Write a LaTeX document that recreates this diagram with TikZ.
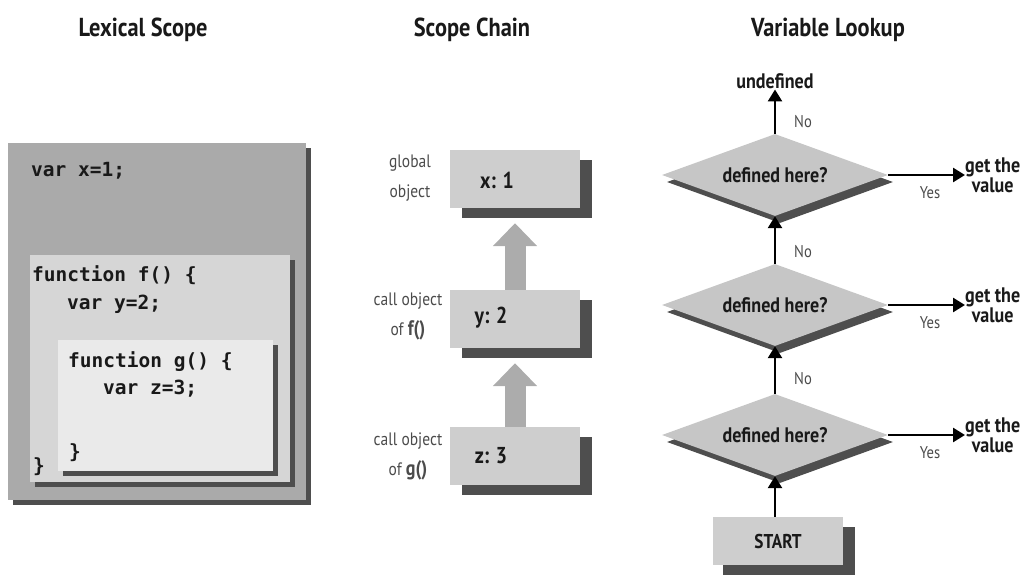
\documentclass[tikz,border=0pt]{standalone}
\usepackage{fontspec}
\setmainfont{PT Sans}
\newfontfamily\cond[FakeStretch=0.86]{PT Sans}
\newfontfamily\code{DejaVu Sans Mono}
\usetikzlibrary{shapes.geometric,arrows.meta,shadows}

\definecolor{outerfill}{RGB}{170,170,170}
\definecolor{midfill}{RGB}{214,214,214}
\definecolor{innerfill}{RGB}{234,234,234}
\definecolor{shade}{RGB}{78,78,78}
\definecolor{chainfill}{RGB}{206,206,206}
\definecolor{chainarrow}{RGB}{172,172,172}
\definecolor{testfill}{RGB}{198,198,198}
\definecolor{inktext}{RGB}{25,25,25}
\definecolor{softtext}{RGB}{75,75,75}

\begin{document}
\begin{tikzpicture}[x=1bp,y=-1bp,
  title/.style={font=\cond\bfseries\fontsize{26bp}{30bp}\selectfont, text=inktext, inner sep=0pt, anchor=base},
  scopebox/.style={anchor=north west, inner sep=0pt, draw=none,
    general shadow={fill=shade, shadow xshift=5bp, shadow yshift=-5bp}},
  codeline/.style={font=\code\bfseries\fontsize{19.5bp}{23bp}\selectfont, text=inktext, inner sep=0pt, anchor=base west},
  chainbox/.style={fill=chainfill, minimum width=130bp, minimum height=58bp, inner sep=0pt,
    general shadow={fill=shade, shadow xshift=12bp, shadow yshift=-10bp}},
  chainval/.style={font=\cond\bfseries\fontsize{23bp}{26bp}\selectfont, text=inktext, inner sep=0pt},
  chainnote/.style={font=\cond\fontsize{18bp}{30bp}\selectfont, text=softtext, align=center, inner sep=0pt},
  fatarrow/.style={draw=chainarrow, line width=21bp, -{Triangle[length=23bp,width=43bp]}, shorten >=15bp},
  test/.style={diamond, fill=testfill, minimum width=226bp, minimum height=82bp, inner sep=0pt, aspect=2.75,
    font=\cond\bfseries\fontsize{21bp}{24bp}\selectfont, text=inktext,
    general shadow={fill=shade, shadow xshift=5bp, shadow yshift=-7bp}},
  outcome/.style={font=\cond\bfseries\fontsize{21bp}{19bp}\selectfont, text=inktext, align=center, inner sep=0pt},
  flow/.style={draw=black, line width=2.6bp, -{Triangle[length=12bp,width=14bp]}},
  answer/.style={font=\cond\fontsize{17bp}{20bp}\selectfont, text=softtext, inner sep=0pt}
]
\useasboundingbox (0,0) rectangle (1026,576);

% column headings
\node[title] (t1) at (143,37) {Lexical Scope};
\node[title] (t2) at (472,37) {Scope Chain};
\node[title] (t3) at (828,37) {Variable Lookup};

% ---- nested lexical scopes ----
\node[scopebox, fill=outerfill, minimum width=298bp, minimum height=357bp] (outer) at (8,143) {};
\node[scopebox, fill=midfill, minimum width=260bp, minimum height=227bp] (fbox) at (30,255) {};
\node[scopebox, fill=innerfill, minimum width=215bp, minimum height=131bp] (gbox) at (58,340) {};

\node[codeline] (c1) at (31,177) {var x=1;};
\node[codeline] (c2) at (32,282) {function f() \{};
\node[codeline] (c3) at (67,309) {var y=2;};
\node[codeline] (c4) at (68,367) {function g() \{};
\node[codeline] (c5) at (103,394) {var z=3;};
\node[codeline] (c6) at (69,458) {\}};
\node[codeline] (c7) at (33,472) {\}};

% ---- chain of variable objects ----
\node[chainbox] (gx) at (515,179) {};
\node[chainbox] (fy) at (515,319) {};
\node[chainbox] (gz) at (515,456) {};
\node[chainval] (vx) at (497,180) {x: 1};
\node[chainval] (vy) at (491,318) {y: 2};
\node[chainval] (vz) at (491,456) {z: 3};

\node[chainnote] (n1) at (410,178) {global\\object};
\node[chainnote] (n2) at (408,316) {call object\\of {\bfseries\fontsize{21bp}{30bp}\selectfont f()}};
\node[chainnote] (n3) at (408,456) {call object\\of {\bfseries\fontsize{21bp}{30bp}\selectfont g()}};

\draw[fatarrow] (fy.north) -- (gx.south);
\draw[fatarrow] (gz.north) -- (fy.south);

% ---- lookup flowchart ----
\node[test] (d1) at (775,175) {defined here?};
\node[test] (d2) at (775,305) {defined here?};
\node[test] (d3) at (775,435) {defined here?};
\node[outcome, anchor=base] (undef) at (775,89) {undefined};
\node[chainbox, minimum height=48bp, font=\cond\bfseries\fontsize{20bp}{24bp}\selectfont, text=inktext,
  general shadow={fill=shade, shadow xshift=10bp, shadow yshift=-10bp}] (start) at (778,541) {START};

\node[outcome, anchor=west] (v1) at (965,175) {get the\\value};
\node[outcome, anchor=west] (v2) at (965,305) {get the\\value};
\node[outcome, anchor=west] (v3) at (965,435) {get the\\value};

\draw[flow] (d1.north) -- (undef.south);
\draw[flow] (d2.north) -- (d1.south);
\draw[flow] (d3.north) -- (d2.south);
\draw[flow] (start.north -| d3.south) -- (d3.south);
\draw[flow] (d1.east) -- (v1.west |- d1.east);
\draw[flow] (d2.east) -- (v2.west |- d2.east);
\draw[flow] (d3.east) -- (v3.west |- d3.east);

\node[answer] (no1) at (803,122) {No};
\node[answer] (no2) at (803,252) {No};
\node[answer] (no3) at (803,379) {No};
\node[answer] (yes1) at (930,193) {Yes};
\node[answer] (yes2) at (930,323) {Yes};
\node[answer] (yes3) at (930,453) {Yes};
\end{tikzpicture}
\end{document}
